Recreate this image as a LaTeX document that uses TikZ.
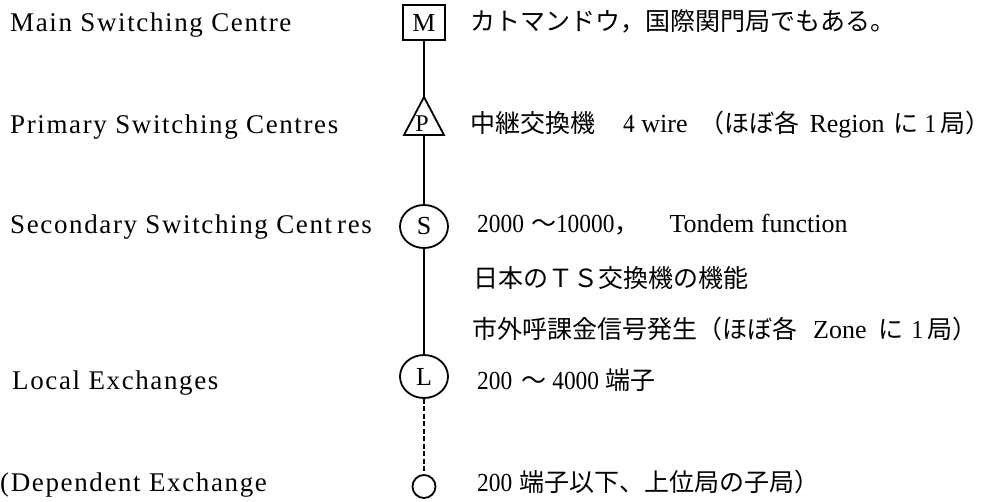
\documentclass[tikz,border=0pt]{standalone}
\usepackage{fontspec}
\usetikzlibrary{shapes.geometric}
\setmainfont{Liberation Serif}
\newfontfamily\cjk{Noto Sans CJK JP}
\newfontfamily\lsp[LetterSpace=6]{Liberation Serif}
\newfontfamily\numfont[FakeStretch=0.9]{Liberation Serif}
\newcommand{\jp}[1]{{\cjk\fontsize{25}{30}\selectfont #1}}
\newcommand{\num}[1]{{\numfont\fontsize{26}{30}\selectfont #1}}
\tikzset{
  lab/.style={anchor=base west, inner sep=0pt, font=\lsp\fontsize{27}{30}\selectfont},
  desc/.style={anchor=base west, inner sep=0pt, font=\fontsize{26}{30}\selectfont},
  level/.style={draw, line width=1.8pt, inner sep=0pt, font=\fontsize{26}{30}\selectfont},
  link/.style={line width=2.4pt},
}
\begin{document}
\begin{tikzpicture}[x=1pt,y=-1pt]
\useasboundingbox (0,0) rectangle (999,501);
\fill[white] (0,0) rectangle (999,501);
% hierarchy symbols
\node[level, rectangle, minimum width=42pt, minimum height=35pt] (M) at (424,22.5) {M};
\coordinate (Ptop) at (424,97);
\coordinate (Pbot) at (424,135);
\draw[line width=1.8pt, line join=miter] (Ptop) -- (444,135) -- (404,135) -- cycle;
\node[inner sep=0pt, anchor=base, font=\fontsize{24}{28}\selectfont] (P) at (422,131) {P};
\node[level, ellipse, minimum width=48pt, minimum height=43pt] (S) at (424,226.5) {S};
\node[level, ellipse, minimum width=48pt, minimum height=43pt] (L) at (424,376.5) {L};
\node[level, circle, minimum size=23pt] (D) at (424,486.5) {};
% connectors
\draw[link] (M.south) -- (Ptop);
\draw[link] (Pbot) -- (S.north);
\draw[link] (S.south) -- (L.north);
\draw[link, dash pattern=on 5pt off 2.5pt] (L.south) -- (D.north);
% left labels
\node[lab] (l1) at (10,31) {Main Switching Centre};
\node[lab] (l2) at (10,133) {Primary Switching Centres};
\node[lab] (l3) at (10,233) {Secondary Switching Cent\hspace{5pt}res};
\node[lab] (l4) at (12,389) {Local Exchanges};
\node[lab] (l5) at (0,491) {(Dependent Exchange};
% right descriptions
\node[desc] (t1) at (470,30) {\jp{カトマンドウ，国際関門局でもある。}};
\node[desc] (t2) at (470,132) {\jp{中継交換機}\hspace{28pt}\num{4} wire\hspace{12pt}\jp{（ほぼ各}\hspace{10pt}Region\hspace{9pt}\jp{に}\hspace{6pt}\num{1}\hspace{4pt}\jp{局）}};
\node[desc] (t3) at (477,232) {\num{2000}\hspace{7pt}\jp{〜}\num{10000}\jp{，}\hspace{30pt}Tondem function};
\node[desc] (t4) at (473,287) {\jp{日本のＴＳ交換機の機能}};
\node[desc] (t5) at (472,338) {\jp{市外呼課金信号発生（ほぼ各}\hspace{16pt}Zone\hspace{12pt}\jp{に}\hspace{8pt}\num{1}\hspace{4pt}\jp{局）}};
\node[desc] (t6) at (477,389) {\num{200}\hspace{9pt}\jp{〜}\hspace{6pt}\num{4000}\hspace{6pt}\jp{端子}};
\node[desc] (t7) at (477,491) {\num{200}\hspace{7pt}\jp{端子以下、上位局の子局）}};
\end{tikzpicture}
\end{document}
